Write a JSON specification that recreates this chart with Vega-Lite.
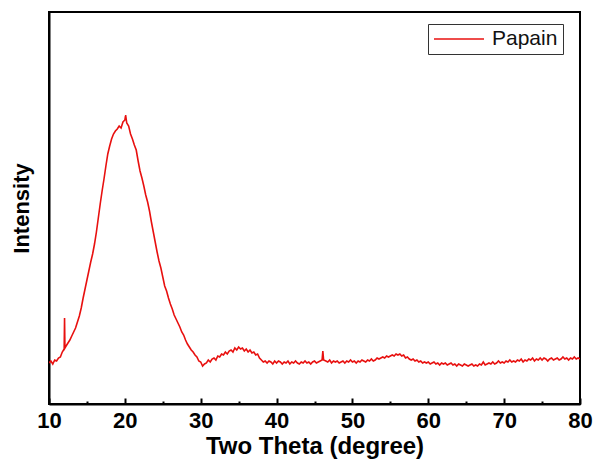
{
  "$schema": "https://vega.github.io/schema/vega-lite/v6.json",
  "width": 531,
  "height": 392,
  "autosize": {"type": "none"},
  "padding": {"left": 49, "top": 12, "right": 18, "bottom": 55},
  "background": "white",
  "config": {
    "view": {"stroke": "black", "strokeWidth": 2},
    "font": "Liberation Sans"
  },
  "data": {"values": [
    {"t":10.00,"i":41},{"t":10.25,"i":43},{"t":10.50,"i":40},{"t":10.75,"i":44},{"t":11.00,"i":43},{"t":11.25,"i":46},{"t":11.50,"i":47},{"t":11.75,"i":52},
    {"t":12.00,"i":55},{"t":12.05,"i":86},{"t":12.10,"i":56},{"t":12.25,"i":58},{"t":12.50,"i":61},{"t":12.75,"i":64},{"t":13.00,"i":68},{"t":13.25,"i":72},
    {"t":13.50,"i":76},{"t":13.75,"i":82},{"t":14.00,"i":88},{"t":14.25,"i":96},{"t":14.50,"i":106},{"t":14.75,"i":115},{"t":15.00,"i":124},{"t":15.25,"i":133},
    {"t":15.50,"i":142},{"t":15.75,"i":150},{"t":16.00,"i":160},{"t":16.25,"i":172},{"t":16.50,"i":186},{"t":16.75,"i":200},{"t":17.00,"i":213},{"t":17.25,"i":225},
    {"t":17.50,"i":238},{"t":17.75,"i":250},{"t":18.00,"i":258},{"t":18.25,"i":265},{"t":18.50,"i":270},{"t":18.75,"i":273},{"t":19.00,"i":275},{"t":19.25,"i":278},
    {"t":19.50,"i":276},{"t":19.75,"i":282},{"t":20.00,"i":284},{"t":20.10,"i":289},{"t":20.25,"i":281},{"t":20.50,"i":278},{"t":20.75,"i":270},{"t":21.00,"i":265},
    {"t":21.25,"i":259},{"t":21.50,"i":254},{"t":21.75,"i":243},{"t":22.00,"i":233},{"t":22.25,"i":226},{"t":22.50,"i":218},{"t":22.75,"i":209},{"t":23.00,"i":202},
    {"t":23.25,"i":193},{"t":23.50,"i":182},{"t":23.75,"i":172},{"t":24.00,"i":162},{"t":24.25,"i":152},{"t":24.50,"i":143},{"t":24.75,"i":136},{"t":25.00,"i":127},
    {"t":25.25,"i":118},{"t":25.50,"i":113},{"t":25.75,"i":106},{"t":26.00,"i":100},{"t":26.25,"i":95},{"t":26.50,"i":89},{"t":26.75,"i":85},{"t":27.00,"i":81},
    {"t":27.25,"i":77},{"t":27.50,"i":72},{"t":27.75,"i":69},{"t":28.00,"i":64},{"t":28.25,"i":60},{"t":28.50,"i":57},{"t":28.75,"i":54},{"t":29.00,"i":52},
    {"t":29.25,"i":49},{"t":29.50,"i":47},{"t":29.75,"i":43},{"t":30.00,"i":42},{"t":30.25,"i":38},{"t":30.50,"i":40},{"t":30.75,"i":41},{"t":31.00,"i":44},
    {"t":31.25,"i":42},{"t":31.50,"i":45},{"t":31.75,"i":46},{"t":32.00,"i":44},{"t":32.25,"i":48},{"t":32.50,"i":47},{"t":32.75,"i":50},{"t":33.00,"i":49},
    {"t":33.25,"i":52},{"t":33.50,"i":50},{"t":33.75,"i":53},{"t":34.00,"i":54},{"t":34.25,"i":52},{"t":34.50,"i":56},{"t":34.75,"i":54},{"t":35.00,"i":57},
    {"t":35.25,"i":55},{"t":35.50,"i":56},{"t":35.75,"i":53},{"t":36.00,"i":55},{"t":36.25,"i":52},{"t":36.50,"i":54},{"t":36.75,"i":51},{"t":37.00,"i":52},
    {"t":37.25,"i":49},{"t":37.50,"i":50},{"t":37.75,"i":46},{"t":38.00,"i":44},{"t":38.25,"i":42},{"t":38.50,"i":43},{"t":38.75,"i":41},{"t":39.00,"i":43},
    {"t":39.25,"i":42},{"t":39.50,"i":40},{"t":39.75,"i":43},{"t":40.00,"i":41},{"t":40.25,"i":43},{"t":40.50,"i":42},{"t":40.75,"i":40},{"t":41.00,"i":42},
    {"t":41.25,"i":41},{"t":41.50,"i":43},{"t":41.75,"i":40},{"t":42.00,"i":42},{"t":42.25,"i":41},{"t":42.50,"i":43},{"t":42.75,"i":41},{"t":43.00,"i":40},
    {"t":43.25,"i":42},{"t":43.50,"i":41},{"t":43.75,"i":43},{"t":44.00,"i":41},{"t":44.25,"i":42},{"t":44.50,"i":40},{"t":44.75,"i":42},{"t":45.00,"i":43},
    {"t":45.25,"i":41},{"t":45.50,"i":42},{"t":45.75,"i":43},{"t":46.00,"i":44},{"t":46.10,"i":53},{"t":46.20,"i":44},{"t":46.50,"i":43},{"t":46.75,"i":42},
    {"t":47.00,"i":44},{"t":47.25,"i":41},{"t":47.50,"i":43},{"t":47.75,"i":42},{"t":48.00,"i":43},{"t":48.25,"i":41},{"t":48.50,"i":42},{"t":48.75,"i":43},
    {"t":49.00,"i":41},{"t":49.25,"i":43},{"t":49.50,"i":42},{"t":49.75,"i":44},{"t":50.00,"i":42},{"t":50.25,"i":43},{"t":50.50,"i":41},{"t":50.75,"i":43},
    {"t":51.00,"i":42},{"t":51.25,"i":44},{"t":51.50,"i":43},{"t":51.75,"i":42},{"t":52.00,"i":44},{"t":52.25,"i":43},{"t":52.50,"i":45},{"t":52.75,"i":43},
    {"t":53.00,"i":44},{"t":53.25,"i":46},{"t":53.50,"i":45},{"t":53.75,"i":46},{"t":54.00,"i":47},{"t":54.25,"i":46},{"t":54.50,"i":48},{"t":54.75,"i":47},
    {"t":55.00,"i":48},{"t":55.25,"i":49},{"t":55.50,"i":48},{"t":55.75,"i":50},{"t":56.00,"i":49},{"t":56.25,"i":50},{"t":56.50,"i":48},{"t":56.75,"i":49},
    {"t":57.00,"i":46},{"t":57.25,"i":47},{"t":57.50,"i":45},{"t":57.75,"i":44},{"t":58.00,"i":45},{"t":58.25,"i":43},{"t":58.50,"i":44},{"t":58.75,"i":42},
    {"t":59.00,"i":43},{"t":59.25,"i":41},{"t":59.50,"i":42},{"t":59.75,"i":41},{"t":60.00,"i":42},{"t":60.25,"i":40},{"t":60.50,"i":41},{"t":60.75,"i":42},
    {"t":61.00,"i":40},{"t":61.25,"i":41},{"t":61.50,"i":39},{"t":61.75,"i":41},{"t":62.00,"i":40},{"t":62.25,"i":41},{"t":62.50,"i":39},{"t":62.75,"i":40},
    {"t":63.00,"i":41},{"t":63.25,"i":39},{"t":63.50,"i":40},{"t":63.75,"i":38},{"t":64.00,"i":40},{"t":64.25,"i":39},{"t":64.50,"i":38},{"t":64.75,"i":40},
    {"t":65.00,"i":39},{"t":65.25,"i":38},{"t":65.50,"i":39},{"t":65.75,"i":40},{"t":66.00,"i":38},{"t":66.25,"i":39},{"t":66.50,"i":38},{"t":66.75,"i":40},
    {"t":67.00,"i":39},{"t":67.25,"i":42},{"t":67.50,"i":39},{"t":67.75,"i":40},{"t":68.00,"i":41},{"t":68.25,"i":40},{"t":68.50,"i":42},{"t":68.75,"i":40},
    {"t":69.00,"i":41},{"t":69.25,"i":43},{"t":69.50,"i":41},{"t":69.75,"i":42},{"t":70.00,"i":41},{"t":70.25,"i":43},{"t":70.50,"i":42},{"t":70.75,"i":44},
    {"t":71.00,"i":42},{"t":71.25,"i":43},{"t":71.50,"i":42},{"t":71.75,"i":44},{"t":72.00,"i":43},{"t":72.25,"i":45},{"t":72.50,"i":42},{"t":72.75,"i":44},
    {"t":73.00,"i":43},{"t":73.25,"i":45},{"t":73.50,"i":44},{"t":73.75,"i":46},{"t":74.00,"i":43},{"t":74.25,"i":45},{"t":74.50,"i":44},{"t":74.75,"i":46},
    {"t":75.00,"i":44},{"t":75.25,"i":46},{"t":75.50,"i":45},{"t":75.75,"i":43},{"t":76.00,"i":45},{"t":76.25,"i":46},{"t":76.50,"i":44},{"t":76.75,"i":45},
    {"t":77.00,"i":46},{"t":77.25,"i":44},{"t":77.50,"i":45},{"t":77.75,"i":47},{"t":78.00,"i":45},{"t":78.25,"i":46},{"t":78.50,"i":44},{"t":78.75,"i":46},
    {"t":79.00,"i":45},{"t":79.25,"i":47},{"t":79.50,"i":45},{"t":79.75,"i":46},{"t":80.00,"i":45}
  ]},
  "mark": {"type": "line", "strokeWidth": 1.6, "clip": true},
  "encoding": {
    "x": {
      "field": "t", "type": "quantitative",
      "scale": {"domain": [10, 80], "nice": false, "zero": false},
      "axis": {
        "title": "Two Theta (degree)",
        "titleFontSize": 24, "titleFontWeight": "bold", "titleColor": "black", "titlePadding": 0,
        "values": [10,15,20,25,30,35,40,45,50,55,60,65,70,75,80],
        "labelExpr": "datum.value % 10 === 0 ? datum.label : ''",
        "labelFontSize": 22, "labelFontWeight": "bold", "labelColor": "black", "labelPadding": 12,
        "labelFlush": false, "labelOverlap": false,
        "grid": false,
        "domainColor": "black", "domainWidth": 2,
        "tickColor": "black", "tickWidth": 2,
        "tickSize": {"condition": {"test": "datum.value % 10 === 0", "value": -6}, "value": -3}
      }
    },
    "y": {
      "field": "i", "type": "quantitative",
      "scale": {"domain": [0, 392], "nice": false},
      "axis": {
        "title": "Intensity",
        "titleFontSize": 22, "titleFontWeight": "bold", "titleColor": "black", "titlePadding": 16,
        "labels": false, "ticks": false, "grid": false,
        "domainColor": "black", "domainWidth": 2
      }
    },
    "color": {
      "datum": "Papain",
      "scale": {"range": ["#e8100f"]},
      "legend": {
        "title": null,
        "orient": "none", "legendX": 379, "legendY": 12,
        "strokeColor": "#333", "padding": 5, "fillColor": "white",
        "symbolType": "stroke", "symbolSize": 2500, "symbolStrokeWidth": 1.5,
        "clipHeight": 20,
        "labelFontSize": 21, "labelColor": "#111", "labelOffset": 7
      }
    }
  }
}
